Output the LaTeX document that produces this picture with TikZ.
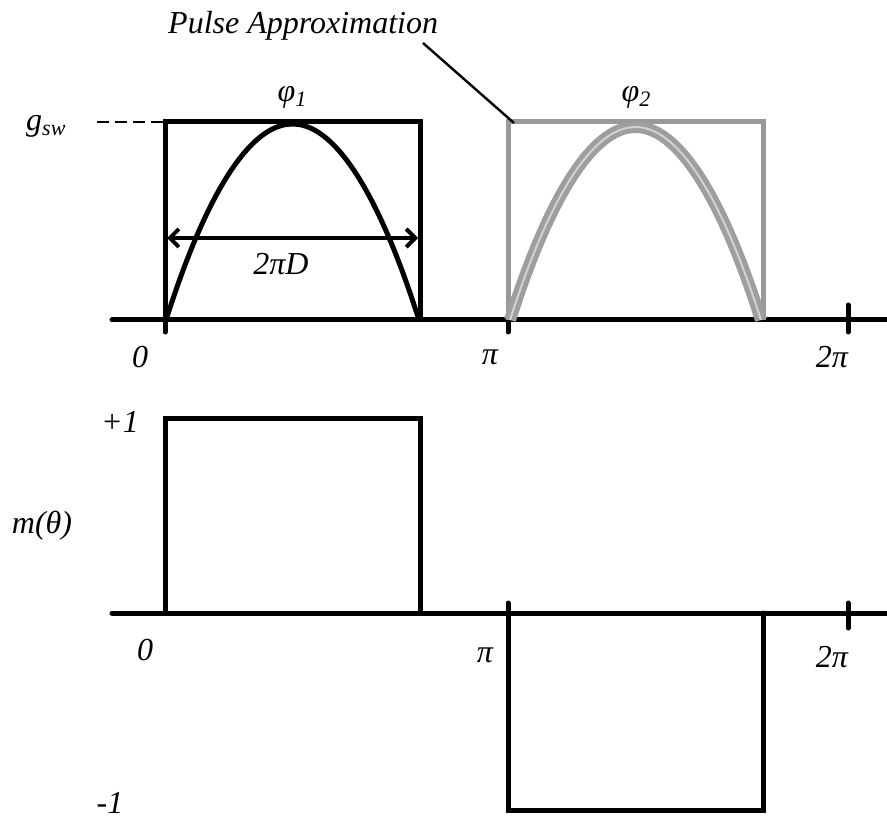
\documentclass[tikz,border=0pt]{standalone}
\usepackage{fontspec}
\setmainfont{Liberation Serif}
\usetikzlibrary{arrows.meta}
\newcommand{\lowsub}[1]{\raisebox{-0.35ex}{\fontsize{22}{24}\selectfont #1}}
\begin{document}
\begin{tikzpicture}[x=1pt,y=-1pt,
  lbl/.style={font=\fontsize{32}{36}\selectfont\itshape, inner sep=0pt},
  axisline/.style={line width=5pt, line cap=round},
  blk/.style={line width=5pt, line join=miter},
  gry/.style={line width=5pt, draw=black!40},
  tickline/.style={line width=5pt, line cap=round}]
\useasboundingbox (0,0) rectangle (887,821);
% ---------- top plot ----------
\draw[axisline] (112,320) -- (887,320);
\draw[tickline] (165,320) -- (165,332);
\draw[tickline] (508,310) -- (508,332);
\draw[tickline] (848,305) -- (848,332);
% black pulse
\draw[blk] (165,320) -- (165,122) -- (420,122) -- (420,320);
\draw[line width=5pt] (166,320) parabola bend (292.5,124) (419,320);
% 2piD arrow
\draw[line width=4pt, {Straight Barb[length=9pt,width=18pt]}-{Straight Barb[length=9pt,width=18pt]}] (167,238) -- (418,238);
\node[lbl] (twopiD) at (281,264) {2πD};
\node[lbl] (phi1) at (292,97) {φ\lowsub{1}};
% g_sw
\node[lbl, anchor=west] (gsw) at (26,126) {g\lowsub{sw}};
\coordinate (gswend) at (163,122);
\draw[line width=2pt, dash pattern=on 12pt off 6pt] (gswend) -- (96,122);
% grey pulse
\draw[gry] (508,320) -- (508,122) -- (763,122) -- (763,320);
\draw[line width=5pt, draw=black!38, double=black!18, double distance=2pt] (510,320) parabola bend (635.5,127) (761,320);
\node[lbl] (phi2) at (636,97) {φ\lowsub{2}};
% pulse approximation
\node[lbl, anchor=west] (pulse) at (168,26) {Pulse Approximation};
\coordinate (pulsetip) at (514,123);
\draw[line width=2.4pt] (423,43) -- (pulsetip);
% axis labels top
\node[lbl] (zeroA) at (140,357) {0};
\node[lbl] (piA) at (490,357) {π};
\node[lbl] (twopiA) at (832,357) {2π};
% ---------- bottom plot ----------
\draw[axisline] (112,613) -- (887,613);
\draw[blk] (165,613) -- (165,418) -- (420,418) -- (420,613);
\draw[blk, line cap=round] (508,603) -- (508,810) -- (763,810) -- (763,613);
\draw[tickline] (848,603) -- (848,628);
\node[lbl] (plus1) at (120,422) {+1};
\node[lbl] (mtheta) at (42,526) {m(θ)};
\node[lbl] (minus1) at (110,803) {-1};
\node[lbl] (zeroB) at (145,650) {0};
\node[lbl] (piB) at (485,655) {π};
\node[lbl] (twopiB) at (832,657) {2π};
\end{tikzpicture}
\end{document}
